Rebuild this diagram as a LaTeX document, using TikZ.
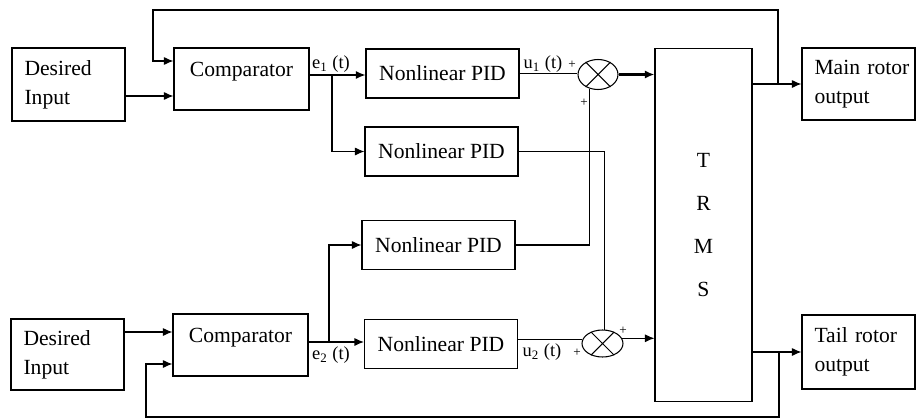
\documentclass[tikz,border=0pt]{standalone}
\usepackage{fontspec}
\setmainfont{Liberation Serif}
\usepackage{tikz}
\usetikzlibrary{arrows.meta,shapes}
\tikzstyle{block}=[rectangle,draw,inner sep=0pt]
\tikzstyle{io}=[block,align=left,inner xsep=0.25cm,text width=1.76cm]
\tikzstyle{comp}=[block,minimum width=2.7cm,text height=0.56cm,text depth=0.68cm]
\tikzstyle{pid}=[block,minimum width=3.06cm,minimum height=0.98cm]
\tikzstyle{sum}=[ellipse,draw,inner sep=0pt,minimum width=0.8cm,minimum height=0.6cm]
\tikzstyle{sig}=[inner sep=0pt,font=\fontsize{10.5}{12}\selectfont]
\tikzstyle{sgn}=[inner sep=0pt,font=\fontsize{7.5}{7.5}\selectfont]

\begin{document}
\begin{tikzpicture}[x=0.02cm,y=-0.02cm,>={Latex[length=1.9mm,width=1.6mm]},line width=0.6pt,
    font=\fontsize{12.3}{16.5}\selectfont]
        \useasboundingbox (0,0) rectangle (916,419);

        \node at (68.5,84.5)  [io,minimum height=1.46cm] (in1)  {Desired\\Input};
        \node at (241.5,79)   [comp]                     (cmp1) {Comparator};
        \node at (442.5,73.5) [pid]                      (pid1) {Nonlinear PID};
        \node at (441.5,151.5) [pid]                     (pid2) {Nonlinear PID};
        \node at (438.5,245)  [pid]                      (pid3) {Nonlinear PID};
        \node at (441,344)    [pid]                      (pid4) {Nonlinear PID};
        \node at (598,74.5)   [sum]                      (sum1) {};
        \node at (602.5,343.5) [sum,minimum width=0.82cm,minimum height=0.54cm] (sum2) {};
        \node at (703.5,225)  [block,minimum width=1.94cm,minimum height=7.08cm,align=center,
            font=\fontsize{12.3}{24.5}\selectfont] (trms) {T\\R\\M\\S};
        \node at (858.5,84)   [io,minimum height=1.44cm] (out1) {\mbox{Main rotor}\\output};
        \node at (858.5,352)  [io,minimum height=1.48cm] (out2) {\mbox{Tail rotor}\\output};
        \node at (67.5,354.5) [io,minimum height=1.42cm] (in2)  {Desired\\Input};
        \node at (240.5,345)  [comp]                     (cmp2) {Comparator};

        % summing junctions
        \foreach \s in {sum1,sum2}
            \draw (\s.45) -- (\s.225) (\s.135) -- (\s.315);

        % signal labels
        \node at (331,64)  [sig] (le1) {e\textsubscript{1} (t)};
        \node at (331,355) [sig] (le2) {e\textsubscript{2} (t)};
        \node at (543,64)  [sig] (lu1) {u\textsubscript{1} (t)};
        \node at (542,352) [sig] (lu2) {u\textsubscript{2} (t)};
        \node at (572,65)  [sgn] (pa) {+};
        \node at (584,103) [sgn] (pb) {+};
        \node at (623,331) [sgn] (pc) {+};
        \node at (577,353) [sgn] (pd) {+};

        \coordinate (e1) at (332,75);
        \coordinate (e2) at (329,342);
        \coordinate (fb1) at (778,84);
        \coordinate (top) at (153,10);
        \coordinate (fb1in) at (153,61);
        \coordinate (fb2) at (779,352);
        \coordinate (bot) at (146,417);
        \coordinate (fb2in) at (146,364);

        % main rotor channel
        \draw [->] ([yshift=-0.23cm]in1.east) -- ([yshift=-0.23cm]in1.east -| cmp1.west);
        \draw [->,thick] ([yshift=0.08cm]cmp1.east) -- ([yshift=0.08cm]cmp1.east -| pid1.west);
        \draw [->] (e1) |- (pid2.west);
        \draw [thick] (pid1.east) -- (pid1.east -| sum1.west);
        \draw [->,line width=1.4pt] (sum1.east) -- (sum1.east -| trms.west);
        \draw (pid2.east) -| (sum2.80);

        % tail rotor channel
        \draw [->] ([yshift=0.45cm]in2.east) -- ([yshift=0.45cm]in2.east -| cmp2.west);
        \draw [->] ([yshift=0.06cm]cmp2.east) -- ([yshift=0.06cm]cmp2.east -| pid4.west);
        \draw [->] (e2) |- (pid3.west);
        \draw (pid3.east) -| (sum1.240);
        \draw (sum2.170 -| pid4.east) -- (sum2.170);
        \draw [->] (sum2.15) -- (sum2.15 -| trms.west);

        % outputs and feedback
        \draw [->] (trms.east |- out1.west) -- (out1.west);
        \draw [->] (trms.east |- out2.west) -- (out2.west);
        \draw [->] (fb1) |- (top) -- (fb1in) -- (fb1in -| cmp1.west);
        \draw [->] (fb2) |- (bot) -- (fb2in) -- (fb2in -| cmp2.west);
      \end{tikzpicture}
\end{document}
